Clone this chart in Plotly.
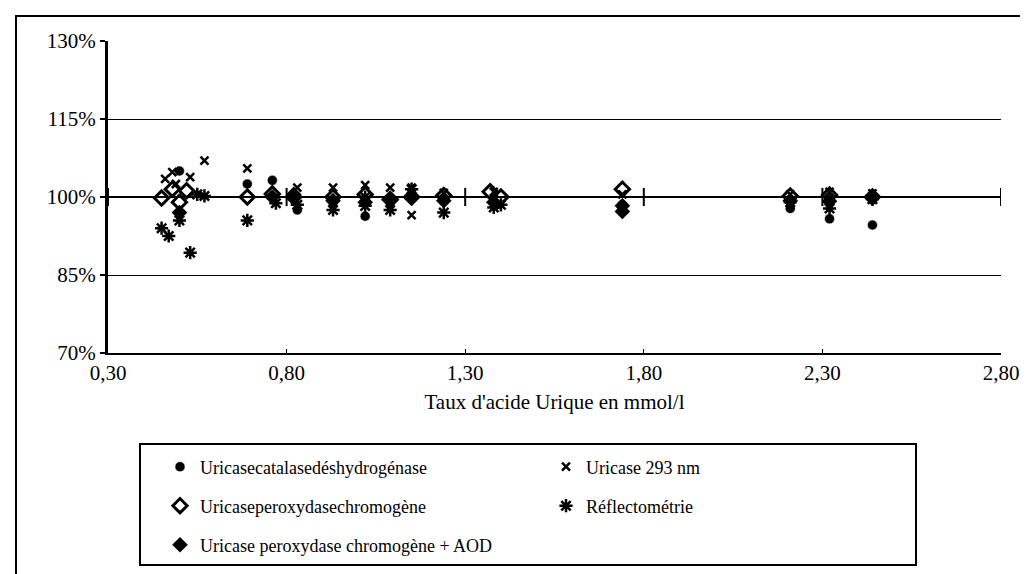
import plotly.graph_objects as go

# Taux d'acide urique (mmol/l) et rapport au résultat de référence (%)
catalase_x = [0.50, 0.69, 0.76, 0.83, 0.93, 1.02, 1.09, 1.24, 1.38, 1.74, 2.21, 2.32, 2.44]
catalase_y = [105.0, 102.5, 103.2, 97.5, 99.0, 96.3, 99.0, 99.2, 98.8, 98.5, 97.8, 95.8, 94.6]

uv293_x = [0.46, 0.48, 0.49, 0.53, 0.57, 0.69, 0.83, 0.93, 1.02, 1.09, 1.15, 1.15, 1.24, 1.38, 1.74, 2.21, 2.32, 2.44]
uv293_y = [103.5, 104.8, 102.5, 103.8, 107.0, 105.5, 101.8, 101.8, 102.3, 101.8, 101.8, 96.5, 100.8, 101.0, 100.5, 100.5, 101.0, 100.7]

perox_x = [0.45, 0.48, 0.50, 0.52, 0.69, 0.76, 0.82, 0.93, 1.02, 1.09, 1.15, 1.24, 1.37, 1.40, 1.74, 2.21, 2.32, 2.44]
perox_y = [99.8, 101.5, 99.0, 101.2, 100.0, 100.6, 100.0, 100.0, 100.5, 99.5, 100.0, 100.3, 101.0, 100.0, 101.5, 100.2, 100.4, 100.0]

reflecto_x = [0.45, 0.47, 0.50, 0.53, 0.55, 0.57, 0.69, 0.77, 0.83, 0.93, 1.02, 1.02, 1.09, 1.15, 1.24, 1.38, 1.40, 2.21, 2.32, 2.44]
reflecto_y = [94.0, 92.5, 95.5, 89.3, 100.5, 100.2, 95.5, 98.8, 98.5, 97.5, 100.0, 98.3, 97.5, 101.5, 97.0, 98.0, 98.5, 99.0, 97.8, 99.6]

aod_x = [0.50, 0.76, 0.82, 0.93, 1.02, 1.09, 1.15, 1.24, 1.38, 1.74, 1.74, 2.21, 2.32, 2.44]
aod_y = [97.0, 100.0, 100.5, 99.3, 99.0, 99.5, 99.8, 99.3, 99.0, 98.3, 97.2, 99.3, 99.2, 100.0]

# ligne de référence 100% avec ses graduations
ref_x = [0.30, 0.80, 1.30, 1.80, 2.30, 2.80]
ref_y = [100, 100, 100, 100, 100, 100]

W, H = 1028, 574
L, R, T, B = 100, 35, 33, 229
pw, ph = W - L - R, H - T - B


def px(x):
    return (x - L) / pw


def py(y):
    return (H - B - y) / ph


FONT = "Liberation Serif"

fig = go.Figure()

fig.add_trace(go.Scatter(x=ref_x, y=ref_y, mode='lines+markers', showlegend=False,
                         line={'color': 'black', 'width': 2},
                         marker={'symbol': 'line-ns', 'size': 13, 'line': {'color': 'black', 'width': 2}},
                         hoverinfo='skip'))

fig.add_trace(go.Scatter(x=catalase_x, y=catalase_y, mode='markers', name='Uricasecatalasedéshydrogénase',
                         legend='legend',
                         marker={'symbol': 'circle', 'size': 10, 'color': 'black',
                                 'line': {'color': 'white', 'width': 0.5}}))
fig.add_trace(go.Scatter(x=uv293_x, y=uv293_y, mode='markers', name='Uricase 293 nm',
                         legend='legend',
                         marker={'symbol': 'x-thin-open', 'size': 8, 'color': 'black', 'line': {'width': 2.5}}))
fig.add_trace(go.Scatter(x=perox_x, y=perox_y, mode='markers', name='Uricaseperoxydasechromogène',
                         legend='legend2',
                         marker={'symbol': 'diamond-open', 'size': 11, 'color': 'black', 'line': {'width': 3}}))
fig.add_trace(go.Scatter(x=reflecto_x, y=reflecto_y, mode='markers', name='Réflectométrie',
                         legend='legend2',
                         marker={'symbol': 'asterisk-open', 'size': 11, 'color': 'black', 'line': {'width': 2.5}}))
fig.add_trace(go.Scatter(x=aod_x, y=aod_y, mode='markers', name='Uricase peroxydase chromogène + AOD',
                         legend='legend3',
                         marker={'symbol': 'diamond', 'size': 12, 'color': 'black'}))

leg = dict(orientation='h', xanchor='left', yanchor='middle', x=px(152),
           entrywidth=341, entrywidthmode='pixels', bgcolor='rgba(0,0,0,0)', borderwidth=0,
           font={'family': FONT, 'size': 18, 'color': 'black'})

fig.update_layout(
    width=W, height=H,
    margin={'l': L, 'r': R, 't': T, 'b': B},
    paper_bgcolor='white', plot_bgcolor='white',
    separators=', ',
    font={'family': FONT, 'size': 21, 'color': 'black'},
    legend={**leg, 'y': py(459)},
    legend2={**leg, 'y': py(498)},
    legend3={**leg, 'y': py(537)},
    xaxis={'range': [0.3, 2.8], 'tick0': 0.3, 'dtick': 0.5, 'tickformat': '.2f',
           'showgrid': False, 'zeroline': False,
           'showline': True, 'linecolor': 'black', 'linewidth': 2,
           'ticks': 'inside', 'ticklen': 4, 'tickwidth': 1, 'tickcolor': 'black',
           'title': {'text': "Taux d'acide Urique en mmol/l", 'standoff': 10,
                     'font': {'family': FONT, 'size': 21}}},
    yaxis={'range': [70, 130], 'tick0': 70, 'dtick': 15, 'ticksuffix': '%',
           'showgrid': True, 'gridcolor': 'black', 'gridwidth': 1, 'zeroline': False,
           'showline': True, 'linecolor': 'black', 'linewidth': 3,
           'ticks': 'outside', 'ticklen': 5, 'tickwidth': 2, 'tickcolor': 'black'},
)

# cadre du graphique et cadre de la légende
fig.add_shape(type='rect', xref='paper', yref='paper',
              x0=px(8), x1=px(1021), y0=py(590), y1=py(8),
              line={'color': 'black', 'width': 2}, layer='below')
fig.add_shape(type='rect', xref='paper', yref='paper',
              x0=px(132), x1=px(908), y0=py(557), y1=py(436),
              line={'color': 'black', 'width': 2}, layer='below')

fig.write_html("out.html")
